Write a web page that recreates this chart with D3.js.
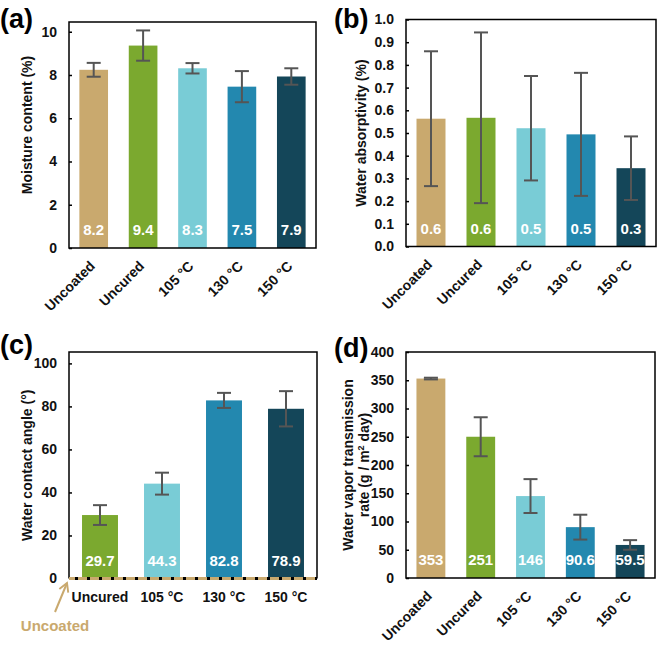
<!DOCTYPE html>
<html><head><meta charset="utf-8">
<script src="https://cdn.jsdelivr.net/npm/d3@7"></script>
<style>
body{margin:0;background:#fff;}
text{font-family:"Liberation Sans",Arial,sans-serif;font-weight:bold;}
</style></head>
<body>
<svg id="chart" width="666" height="656"></svg>
<script>
// ---- data ----
const categories5 = ["Uncoated", "Uncured", "105 °C", "130 °C", "150 °C"];
const categories4 = ["Uncured", "105 °C", "130 °C", "150 °C"];
const colors5 = ["#C9A96E", "#7BA92F", "#79CCD6", "#2388AF", "#144659"];
const colors4 = ["#7BA92F", "#79CCD6", "#2388AF", "#144659"];

const moisture = [8.24, 9.36, 8.31, 7.46, 7.93];
const moistureErr = [0.32, 0.70, 0.24, 0.72, 0.38];
const moistureLabels = ["8.2", "9.4", "8.3", "7.5", "7.9"];
const moistureTicks = [0, 2, 4, 6, 8, 10];

const absorp = [0.563, 0.567, 0.521, 0.494, 0.345];
const absorpErr = [0.297, 0.376, 0.230, 0.271, 0.140];
const absorpLabels = ["0.6", "0.6", "0.5", "0.5", "0.3"];
const absorpTicks = [0, 0.1, 0.2, 0.3, 0.4, 0.5, 0.6, 0.7, 0.8, 0.9, 1.0];

const contact = [29.5, 44.1, 82.8, 78.9];
const contactErr = [4.6, 5.1, 3.5, 8.2];
const contactLabels = ["29.7", "44.3", "82.8", "78.9"];
const contactTicks = [0, 20, 40, 60, 80, 100];

const wvtr = [353, 250, 145, 90.0, 58.5];
const wvtrErr = [1.5, 34.5, 30, 22, 8.5];
const wvtrLabels = ["353", "251", "146", "90.6", "59.5"];
const wvtrTicks = [0, 50, 100, 150, 200, 250, 300, 350, 400];

const svg = d3.select("#chart");

function panel(opt) {
  const g = svg.append("g");
  const x = d3.scaleBand().domain(opt.cats).range([opt.x0, opt.x1]).paddingInner(0.42).paddingOuter(0.21);
  const y = d3.scaleLinear().domain(opt.domain).range([opt.y1, opt.y0]);

  // bars
  g.selectAll("rect.bar").data(opt.values).join("rect")
    .attr("x", (d, i) => x(opt.cats[i]))
    .attr("width", x.bandwidth())
    .attr("y", d => y(d))
    .attr("height", d => y(0) - y(d))
    .attr("fill", (d, i) => opt.colors[i]);

  // error bars
  const cap = 7;
  opt.values.forEach((v, i) => {
    const cx = x(opt.cats[i]) + x.bandwidth() / 2;
    const e = opt.err[i];
    const eg = g.append("g").attr("stroke", "#555").attr("stroke-width", 2);
    eg.append("line").attr("x1", cx).attr("x2", cx).attr("y1", y(v + e)).attr("y2", y(v - e));
    eg.append("line").attr("x1", cx - cap).attr("x2", cx + cap).attr("y1", y(v + e)).attr("y2", y(v + e));
    eg.append("line").attr("x1", cx - cap).attr("x2", cx + cap).attr("y1", y(v - e)).attr("y2", y(v - e));
  });

  // value labels
  g.selectAll("text.val").data(opt.labels).join("text")
    .attr("x", (d, i) => x(opt.cats[i]) + x.bandwidth() / 2)
    .attr("y", opt.y1 - 13)
    .attr("text-anchor", "middle")
    .attr("fill", "#fff")
    .attr("font-size", 15)
    .text(d => d);

  // y axis
  const ax = g.append("g").attr("transform", `translate(${opt.x0},0)`)
    .call(d3.axisLeft(y).tickValues(opt.ticks).tickSizeInner(-3).tickSizeOuter(0).tickPadding(12).tickFormat(opt.fmt));
  ax.select(".domain").remove();
  ax.selectAll("line").attr("stroke", "#000").attr("stroke-width", 1.5);
  ax.selectAll("text").attr("font-size", 14).attr("fill", "#111").attr("font-family", "Liberation Sans, Arial, sans-serif").attr("font-weight", "bold");

  // frame
  g.append("path")
    .attr("d", opt.dashedBottom
      ? `M${opt.x0},${opt.y1}V${opt.y0}H${opt.x1}V${opt.y1}`
      : `M${opt.x0},${opt.y1}V${opt.y0}H${opt.x1}V${opt.y1}Z`)
    .attr("fill", "none").attr("stroke", "#000").attr("stroke-width", 1.5);

  // x labels
  if (opt.rotate) {
    g.selectAll("text.xl").data(opt.cats).join("text")
      .attr("transform", d => `translate(${x(d) + x.bandwidth() / 2 + 2},${opt.y1 + 19}) rotate(-45)`)
      .attr("text-anchor", "end")
      .attr("font-size", 14)
      .attr("fill", "#111")
      .text(d => d);
  } else {
    g.selectAll("text.xl").data(opt.cats).join("text")
      .attr("x", d => x(d) + x.bandwidth() / 2)
      .attr("y", opt.y1 + 23)
      .attr("text-anchor", "middle")
      .attr("font-size", 14)
      .attr("fill", "#111")
      .text(d => d);
  }

  // y title
  const tl = opt.ytitle;
  const yt = g.append("text")
    .attr("transform", `translate(${opt.tx},${(opt.y0 + opt.y1) / 2 + opt.tdy}) rotate(-90)`)
    .attr("text-anchor", "middle")
    .attr("font-size", 14)
    .attr("fill", "#111");
  tl.forEach((line, k) => {
    const ts = yt.append("tspan").attr("x", 0).attr("dy", k === 0 ? 0 : 16);
    if (Array.isArray(line)) {
      line.forEach(part => {
        const s = ts.append("tspan").text(part.t);
        if (part.sup) s.attr("baseline-shift", "super").attr("font-size", 9);
      });
    } else ts.text(line);
  });

  // panel letter
  g.append("text").attr("x", opt.lx).attr("y", opt.ly)
    .attr("font-size", 27).attr("fill", "#000").text(opt.letter);

  return {g, x, y};
}

panel({cats: categories5, colors: colors5, values: moisture, err: moistureErr, labels: moistureLabels,
  ticks: moistureTicks, fmt: d3.format("d"), domain: [0, 10.45],
  x0: 69, x1: 316, y0: 22, y1: 248, rotate: true,
  ytitle: ["Moisture content (%)"], tx: 32, tdy: -10, letter: "(a)", lx: 0, ly: 28});

panel({cats: categories5, colors: colors5, values: absorp, err: absorpErr, labels: absorpLabels,
  ticks: absorpTicks, fmt: d3.format(".1f"), domain: [0, 1.0],
  x0: 406, x1: 656, y0: 19.5, y1: 246.5, rotate: true,
  ytitle: ["Water absorptivity (%)"], tx: 366, tdy: 0, letter: "(b)", lx: 334, ly: 28});

const pc = panel({cats: categories4, colors: colors4, values: contact, err: contactErr, labels: contactLabels,
  ticks: contactTicks, fmt: d3.format("d"), domain: [0, 105.3],
  x0: 69, x1: 317, y0: 352, y1: 578.5, rotate: false, dashedBottom: true,
  ytitle: ["Water contact angle (°)"], tx: 32, tdy: 0, letter: "(c)", lx: 0, ly: 354});

// dashed "Uncoated" baseline in (c)
pc.g.append("line").attr("x1", 69).attr("x2", 317).attr("y1", pc.y(0)).attr("y2", pc.y(0))
  .attr("stroke", "#C9A96E").attr("stroke-width", 3);
pc.g.append("line").attr("x1", 69).attr("x2", 317).attr("y1", pc.y(0)).attr("y2", pc.y(0))
  .attr("stroke", "#000").attr("stroke-width", 3).attr("stroke-dasharray", "3,9").attr("stroke-dashoffset", -6);
svg.append("defs").append("marker").attr("id", "arr").attr("viewBox", "0 0 10 10")
  .attr("refX", 8).attr("refY", 5).attr("markerWidth", 6).attr("markerHeight", 6).attr("orient", "auto")
  .append("path").attr("d", "M1,1L8,5L1,9").attr("fill", "none").attr("stroke", "#C9A96E").attr("stroke-width", 1.6);
pc.g.append("line").attr("x1", 55).attr("y1", 612).attr("x2", 67).attr("y2", 583)
  .attr("stroke", "#C9A96E").attr("stroke-width", 2).attr("marker-end", "url(#arr)");
pc.g.append("text").attr("x", 55).attr("y", 631).attr("text-anchor", "middle")
  .attr("font-size", 15).attr("fill", "#C9A96E").text("Uncoated");

panel({cats: categories5, colors: colors5, values: wvtr, err: wvtrErr, labels: wvtrLabels,
  ticks: wvtrTicks, fmt: d3.format("d"), domain: [0, 400],
  x0: 406, x1: 655, y0: 352, y1: 578, rotate: true,
  ytitle: ["Water vapor transmission", [{t: "rate (g / m"}, {t: "2", sup: true}, {t: " day)"}]],
  tx: 353, tdy: 0, letter: "(d)", lx: 334, ly: 357});
</script>
</body></html>
